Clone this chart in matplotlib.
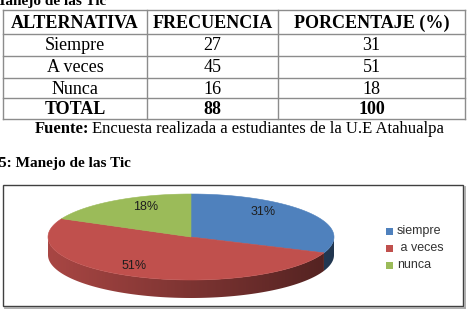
import numpy as np
import matplotlib
matplotlib.use('Agg')
from matplotlib import pyplot as plt
from matplotlib.patches import Polygon, Rectangle

# images are clipped one by one, so don't merge them
plt.rcParams['image.composite_image'] = False

# table data
headers = ['ALTERNATIVA', 'FRECUENCIA', 'PORCENTAJE (%)']
alternativas = ['Siempre', 'A veces', 'Nunca']
frecuencia = [27, 45, 16]
porcentaje = [31, 51, 18]
total = ['TOTAL', '88', '100']

# pie data
legend_labels = ['siempre', ' a veces', 'nunca']
pie_values = [31, 51, 18]
pie_colors = ['#4F81BD', '#C0504D', '#9BBB59']

serif = 'Liberation Serif'
sans = 'Liberation Sans'

fig = plt.figure(figsize=(4.68, 3.15), dpi=100)
ax = fig.add_axes([0, 0, 1, 1])
ax.set_xlim(0, 468)
ax.set_ylim(315, 0)
ax.axis('off')
ax.set_autoscale_on(False)

# heading cut at the top of the page (as in the scanned page)
ax.text(-9, 5, 'Manejo de las Tic', family=serif, weight='bold', fontsize=11,
        va='baseline', ha='left')

# ---- table ----
col_x = [3, 147, 278, 465]
row_y = [10, 34, 56, 78, 98, 119]
line_col = '#8c8c8c'
for x in col_x:
    ax.plot([x, x], [row_y[0], row_y[-1]], color=line_col, lw=1.0)
for y in row_y:
    ax.plot([col_x[0], col_x[-1]], [y, y], color=line_col, lw=1.0)

rows = [headers]
for a, f, p in zip(alternativas, frecuencia, porcentaje):
    rows.append([a, str(f), str(p)])
rows.append(total)
for i, row in enumerate(rows):
    yc = (row_y[i] + row_y[i + 1]) / 2 + 1
    bold = i == 0 or i == len(rows) - 1
    for j, txt in enumerate(row):
        xc = (col_x[j] + col_x[j + 1]) / 2
        ax.text(xc, yc, txt, family=serif, fontsize=13,
                weight='bold' if bold else 'normal', ha='center', va='center')

ax.text(35, 129, 'Fuente:', family=serif, fontsize=12, weight='bold',
        ha='left', va='center')
ax.text(92, 129, 'Encuesta realizada a estudiantes de la U.E Atahualpa',
        family=serif, fontsize=12, ha='left', va='center')

ax.text(-1, 163, '5: Manejo de las Tic', family=serif, fontsize=11,
        weight='bold', ha='left', va='center')

# ---- chart frame ----
ax.add_patch(Rectangle((3, 185), 460, 121, fill=False, ec='#404040', lw=1.0))
ax.plot([464.5, 464.5], [187, 307.5], color='#a8a8a8', lw=1.3)
ax.plot([5, 464.5], [307.5, 307.5], color='#a8a8a8', lw=1.3)

# ---- 3d pie ----
cx, cy, rx, ry, depth = 191, 237, 143, 43, 18


def pt(theta, dy=0.0):
    t = np.radians(theta)
    return cx + rx * np.cos(t), cy - ry * np.sin(t) + dy


fracs = np.array(pie_values, dtype=float) / sum(pie_values)
starts = 90 - 360 * np.concatenate(([0], np.cumsum(fracs)[:-1]))
ends = starts - 360 * fracs

# side walls (front half: angles -180..0), shaded left to right
for s, e, c in zip(starts, ends, pie_colors):
    lo, hi = min(s, e), max(s, e)
    for off in (0, -360, 360):
        a, b = max(lo + off, -180), min(hi + off, 0)
        if b <= a:
            continue
        th = np.linspace(a, b, 100)
        top = [pt(t) for t in th]
        bot = [pt(t, depth) for t in th[::-1]]
        poly = Polygon(top + bot, closed=True, fc='none', ec='none')
        ax.add_patch(poly)
        rgb = np.array(matplotlib.colors.to_rgb(c))
        k = np.linspace(0.88, 0.42, 200)
        img = np.clip(rgb[None, None, :] * k[None, :, None], 0, 1)
        im = ax.imshow(img, extent=(cx - rx - 2, cx + rx + 2,
                                    cy + ry + depth + 3, cy - 3),
                       aspect='auto', interpolation='bilinear', zorder=1)
        im.set_clip_path(poly)

# top faces
for s, e, c in zip(starts, ends, pie_colors):
    th = np.linspace(s, e, 120)
    pts = [(cx, cy)] + [pt(t) for t in th]
    ax.add_patch(Polygon(pts, closed=True, fc=c, ec=c, lw=0.4, zorder=2))

# percentage labels
label_pos = [(263, 212), (134, 266), (146, 207)]
for (lx, ly), v in zip(label_pos, pie_values):
    ax.text(lx, ly, '%d%%' % v, family=sans, fontsize=9, color='#1e1e1e',
            ha='center', va='center', zorder=3)

# legend
leg_y = [231, 248, 265]
for y, lab, c in zip(leg_y, legend_labels, pie_colors):
    ax.add_patch(Rectangle((386, y - 3.5), 7, 7, fc=c, ec='none'))
    ax.text(397, y, lab, family=sans, fontsize=9, color='#333333',
            ha='left', va='center')

ax.set_xlim(0, 468)
ax.set_ylim(315, 0)
fig.savefig('out.png', dpi=100)
